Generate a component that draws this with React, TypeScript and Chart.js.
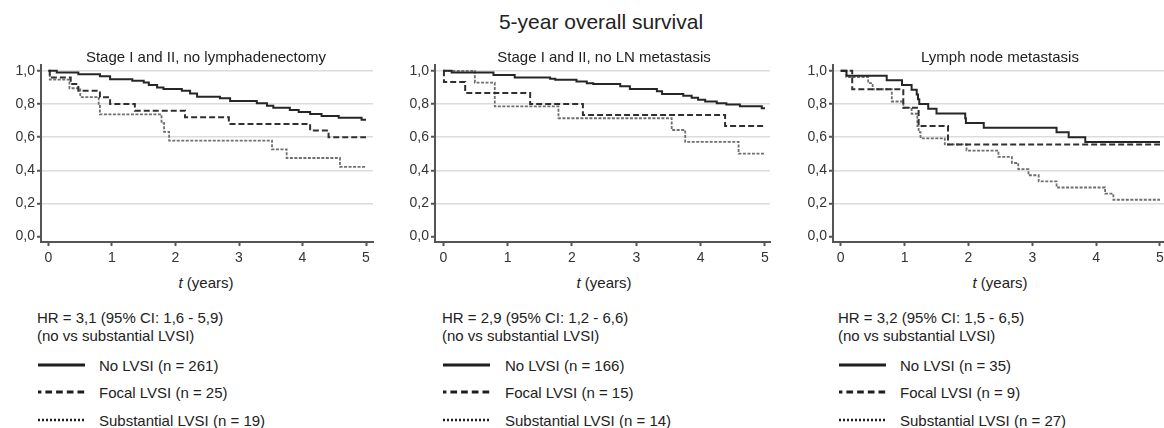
import React, { useEffect, useRef } from "react";
import { Chart, registerables } from "chart.js";

Chart.register(...registerables);

const FONT = "'Liberation Sans', Arial, Helvetica, sans-serif";

// ---------- text ----------
const mainTitle = "5-year overall survival";
const panelTitles = [
  "Stage I and II, no lymphadenectomy",
  "Stage I and II, no LN metastasis",
  "Lymph node metastasis",
];
const xAxisVar = "t";
const xAxisUnit = " (years)";
const hrLines = [
  "HR = 3,1 (95% CI: 1,6 - 5,9)",
  "HR = 2,9 (95% CI: 1,2 - 6,6)",
  "HR = 3,2 (95% CI: 1,5 - 6,5)",
];
const hrSubLine = "(no vs substantial LVSI)";
const seriesNames = ["No LVSI", "Focal LVSI", "Substantial LVSI"];
const panelCounts = [
  [261, 25, 19],
  [166, 15, 14],
  [35, 9, 27],
];

// ---------- ticks ----------
const xTickValues = [0, 1, 2, 3, 4, 5];
const xTickLabels = ["0", "1", "2", "3", "4", "5"];
const yTickValues = [0, 0.2, 0.4, 0.6, 0.8, 1.0];
const yTickLabels = ["0,0", "0,2", "0,4", "0,6", "0,8", "1,0"];

// ---------- data (time in years, survival) ----------
// Panel 1: Stage I and II, no lymphadenectomy
const p1NoT = [0, 0.13, 0.47, 0.81, 0.97, 1.32, 1.5, 1.58, 1.71, 1.81, 2.1, 2.23, 2.34, 2.7, 2.86, 3.28, 3.44, 3.54, 3.8, 3.94, 4.12, 4.3, 4.57, 4.93, 5.0];
const p1NoS = [1.0, 0.99, 0.98, 0.968, 0.95, 0.94, 0.93, 0.914, 0.9, 0.89, 0.88, 0.864, 0.844, 0.834, 0.818, 0.804, 0.79, 0.778, 0.764, 0.752, 0.74, 0.727, 0.717, 0.705, 0.705];
const p1FocT = [0, 0.02, 0.35, 0.47, 0.81, 0.97, 1.36, 2.15, 2.84, 4.12, 4.41, 5.0];
const p1FocS = [1, 0.96, 0.92, 0.88, 0.84, 0.8, 0.76, 0.72, 0.68, 0.64, 0.6, 0.6];
const p1SubT = [0, 0.02, 0.33, 0.5, 0.79, 0.81, 1.78, 1.82, 1.9, 3.52, 3.75, 4.59, 5.0];
const p1SubS = [1, 0.947, 0.895, 0.842, 0.789, 0.737, 0.684, 0.632, 0.579, 0.526, 0.474, 0.421, 0.421];

// Panel 2: Stage I and II, no LN metastasis
const p2NoT = [0, 0.13, 0.78, 1.11, 1.66, 1.74, 2.07, 2.23, 2.33, 2.75, 2.9, 3.32, 3.4, 3.73, 3.86, 3.96, 4.07, 4.25, 4.4, 4.61, 4.95, 5.0];
const p2NoS = [1.0, 0.99, 0.975, 0.96, 0.952, 0.946, 0.936, 0.925, 0.92, 0.907, 0.89, 0.877, 0.86, 0.85, 0.837, 0.825, 0.815, 0.805, 0.797, 0.787, 0.775, 0.775];
const p2FocT = [0, 0.01, 0.34, 1.35, 2.17, 4.38, 5.0];
const p2FocS = [1, 0.933, 0.867, 0.8, 0.733, 0.667, 0.667];
const p2SubT = [0, 0.49, 0.8, 1.79, 3.55, 3.76, 4.59, 5.0];
const p2SubS = [1, 0.929, 0.786, 0.714, 0.643, 0.571, 0.5, 0.5];

// Panel 3: Lymph node metastasis
const p3NoT = [0, 0.09, 0.72, 0.96, 1.11, 1.19, 1.21, 1.23, 1.37, 1.5, 1.95, 1.96, 2.24, 3.38, 3.57, 3.83, 5.0];
const p3NoS = [1, 0.971, 0.943, 0.914, 0.886, 0.857, 0.829, 0.8, 0.771, 0.743, 0.714, 0.686, 0.657, 0.629, 0.6, 0.571, 0.571];
const p3FocT = [0, 0.18, 0.98, 1.22, 1.68, 5.0];
const p3FocS = [1, 0.889, 0.778, 0.667, 0.556, 0.556];
const p3SubT = [0, 0.09, 0.43, 0.5, 0.8, 0.98, 1.11, 1.2, 1.22, 1.25, 1.63, 1.97, 2.47, 2.68, 2.78, 2.94, 3.1, 3.38, 4.14, 4.27, 5.0];
const p3SubS = [1, 0.963, 0.926, 0.889, 0.815, 0.778, 0.741, 0.667, 0.63, 0.593, 0.556, 0.519, 0.481, 0.444, 0.407, 0.37, 0.333, 0.296, 0.259, 0.222, 0.222];

const PANEL_SERIES = [
  [[p1NoT, p1NoS], [p1FocT, p1FocS], [p1SubT, p1SubS]],
  [[p2NoT, p2NoS], [p2FocT, p2FocS], [p2SubT, p2SubS]],
  [[p3NoT, p3NoS], [p3FocT, p3FocS], [p3SubT, p3SubS]],
];

// ---------- styles / layout ----------
const SERIES_STYLE = [
  { color: "#262626", width: 2, dash: [] as number[], order: 0 },
  { color: "#303030", width: 2, dash: [6, 3], order: 1 },
  { color: "#6f6f6f", width: 1.8, dash: [3, 1.5], order: 2 },
];

const Y_AXIS_W = 41;
const X_AXIS_H = 30;
const CANVAS_TOP = 55;
const PAD_TOP = 10;
const PAD_BOTTOM = 2;
const PAD_RIGHT = 10;
const AREA_BOTTOM = 242;

const LAYOUT = [
  { areaLeft: 41, areaRight: 373, xMin: -0.118, xMax: 5.11, center: 206, hrX: 37, legLineX: 38, legTextX: 99 },
  { areaLeft: 435, areaRight: 770, xMin: -0.129, xMax: 5.078, center: 604, hrX: 442, legLineX: 443, legTextX: 505 },
  { areaLeft: 833, areaRight: 1172, xMin: -0.121, xMax: 5.188, center: 1000, hrX: 838, legLineX: 839, legTextX: 900 },
];
const Y_MIN = -0.033;
const Y_MAX = 1.033;

function KMPanel({ idx }: { idx: number }) {
  const ref = useRef<HTMLCanvasElement | null>(null);
  const L = LAYOUT[idx];
  const canvasLeft = L.areaLeft - Y_AXIS_W;
  const canvasW = L.areaRight + PAD_RIGHT - canvasLeft;
  const canvasH = AREA_BOTTOM - CANVAS_TOP + X_AXIS_H + PAD_BOTTOM;

  useEffect(() => {
    if (!ref.current) return;
    const datasets = PANEL_SERIES[idx].map((pair, i) => ({
      label: seriesNames[i],
      data: pair[0].map((t, j) => ({ x: t, y: pair[1][j] })),
      stepped: true as const,
      borderColor: SERIES_STYLE[i].color,
      borderWidth: SERIES_STYLE[i].width,
      borderDash: SERIES_STYLE[i].dash,
      borderCapStyle: "butt" as const,
      borderJoinStyle: "miter" as const,
      pointRadius: 0,
      pointHoverRadius: 0,
      fill: false,
      order: SERIES_STYLE[i].order,
    }));
    const chart = new Chart(ref.current, {
      type: "line",
      data: { datasets },
      options: {
        animation: false,
        responsive: false,
        maintainAspectRatio: false,
        devicePixelRatio: 1,
        layout: { padding: { left: 0, top: PAD_TOP, right: PAD_RIGHT, bottom: PAD_BOTTOM } },
        plugins: {
          legend: { display: false },
          tooltip: { enabled: false },
          title: { display: false },
        },
        scales: {
          x: {
            type: "linear",
            min: L.xMin,
            max: L.xMax,
            afterBuildTicks: (sc: any) => {
              sc.ticks = xTickValues.map((v) => ({ value: v }));
            },
            afterFit: (sc: any) => {
              sc.height = X_AXIS_H;
            },
            ticks: {
              callback: (_v: any, i: number) => xTickLabels[i],
              font: { family: FONT, size: 14 },
              color: "#333",
              padding: 4,
              maxRotation: 0,
              autoSkip: false,
            },
            grid: {
              drawOnChartArea: false,
              drawTicks: true,
              tickLength: 4,
              tickWidth: 2,
              tickColor: "#555",
            },
            border: { display: true, color: "#555", width: 2 },
          },
          y: {
            type: "linear",
            min: Y_MIN,
            max: Y_MAX,
            afterBuildTicks: (sc: any) => {
              sc.ticks = yTickValues.map((v) => ({ value: v }));
            },
            afterFit: (sc: any) => {
              sc.width = Y_AXIS_W;
            },
            ticks: {
              callback: (_v: any, i: number) => yTickLabels[i],
              font: { family: FONT, size: 14 },
              color: "#333",
              padding: 2,
              autoSkip: false,
            },
            grid: {
              color: (ctx: any) =>
                ctx.tick && ctx.tick.value === 0 ? "rgba(0,0,0,0)" : "#dcdcdc",
              lineWidth: 1.5,
              drawTicks: true,
              tickLength: 4,
              tickWidth: 2,
              tickColor: "#555",
            },
            border: { display: true, color: "#555", width: 2 },
          },
        },
      },
    });
    return () => chart.destroy();
  }, [idx]);

  return (
    <canvas
      ref={ref}
      width={canvasW}
      height={canvasH}
      style={{ position: "absolute", left: canvasLeft, top: CANVAS_TOP, width: canvasW, height: canvasH }}
    />
  );
}

function Txt({ x, cy, size, children, center, style }: any) {
  return (
    <div
      style={{
        position: "absolute",
        left: x,
        top: cy - 0.49 * size,
        fontSize: size,
        lineHeight: 1,
        fontFamily: FONT,
        color: "#222",
        whiteSpace: "nowrap",
        transform: center ? "translateX(-50%)" : undefined,
        ...style,
      }}
    >
      {children}
    </div>
  );
}

function LegendLine({ x, cy, kind }: { x: number; cy: number; kind: number }) {
  const w = 47;
  const props: any =
    kind === 0
      ? { strokeWidth: 3 }
      : kind === 1
      ? { strokeWidth: 3, strokeDasharray: "6.7 4", strokeDashoffset: 3.3 }
      : { strokeWidth: 2.5, strokeDasharray: "2 2" };
  return (
    <svg style={{ position: "absolute", left: x, top: cy - 5 }} width={w} height={10}>
      <line x1={0} y1={5} x2={w} y2={5} stroke="#1e1e1e" {...props} />
    </svg>
  );
}

export default function App() {
  const legendRows = [365, 392, 420];
  return (
    <div
      style={{
        position: "absolute",
        left: 0,
        top: 0,
        width: 1164,
        height: 428,
        overflow: "hidden",
        background: "#fff",
      }}
    >
      {LAYOUT.map((_, i) => (
        <KMPanel key={i} idx={i} />
      ))}
      <Txt x={601} cy={21} size={21} center>
        {mainTitle}
      </Txt>
      {LAYOUT.map((L, i) => (
        <React.Fragment key={"t" + i}>
          <Txt x={L.center} cy={56} size={15} center>
            {panelTitles[i]}
          </Txt>
          <Txt x={L.center} cy={282} size={15} center>
            <i>{xAxisVar}</i>
            {xAxisUnit}
          </Txt>
          <Txt x={L.hrX} cy={317.5} size={15}>
            {hrLines[i]}
          </Txt>
          <Txt x={L.hrX} cy={335} size={15}>
            {hrSubLine}
          </Txt>
          {seriesNames.map((name, k) => (
            <React.Fragment key={"l" + k}>
              <LegendLine x={L.legLineX} cy={legendRows[k]} kind={k} />
              <Txt x={L.legTextX} cy={legendRows[k]} size={15}>
                {`${name} (n = ${panelCounts[i][k]})`}
              </Txt>
            </React.Fragment>
          ))}
        </React.Fragment>
      ))}
    </div>
  );
}
